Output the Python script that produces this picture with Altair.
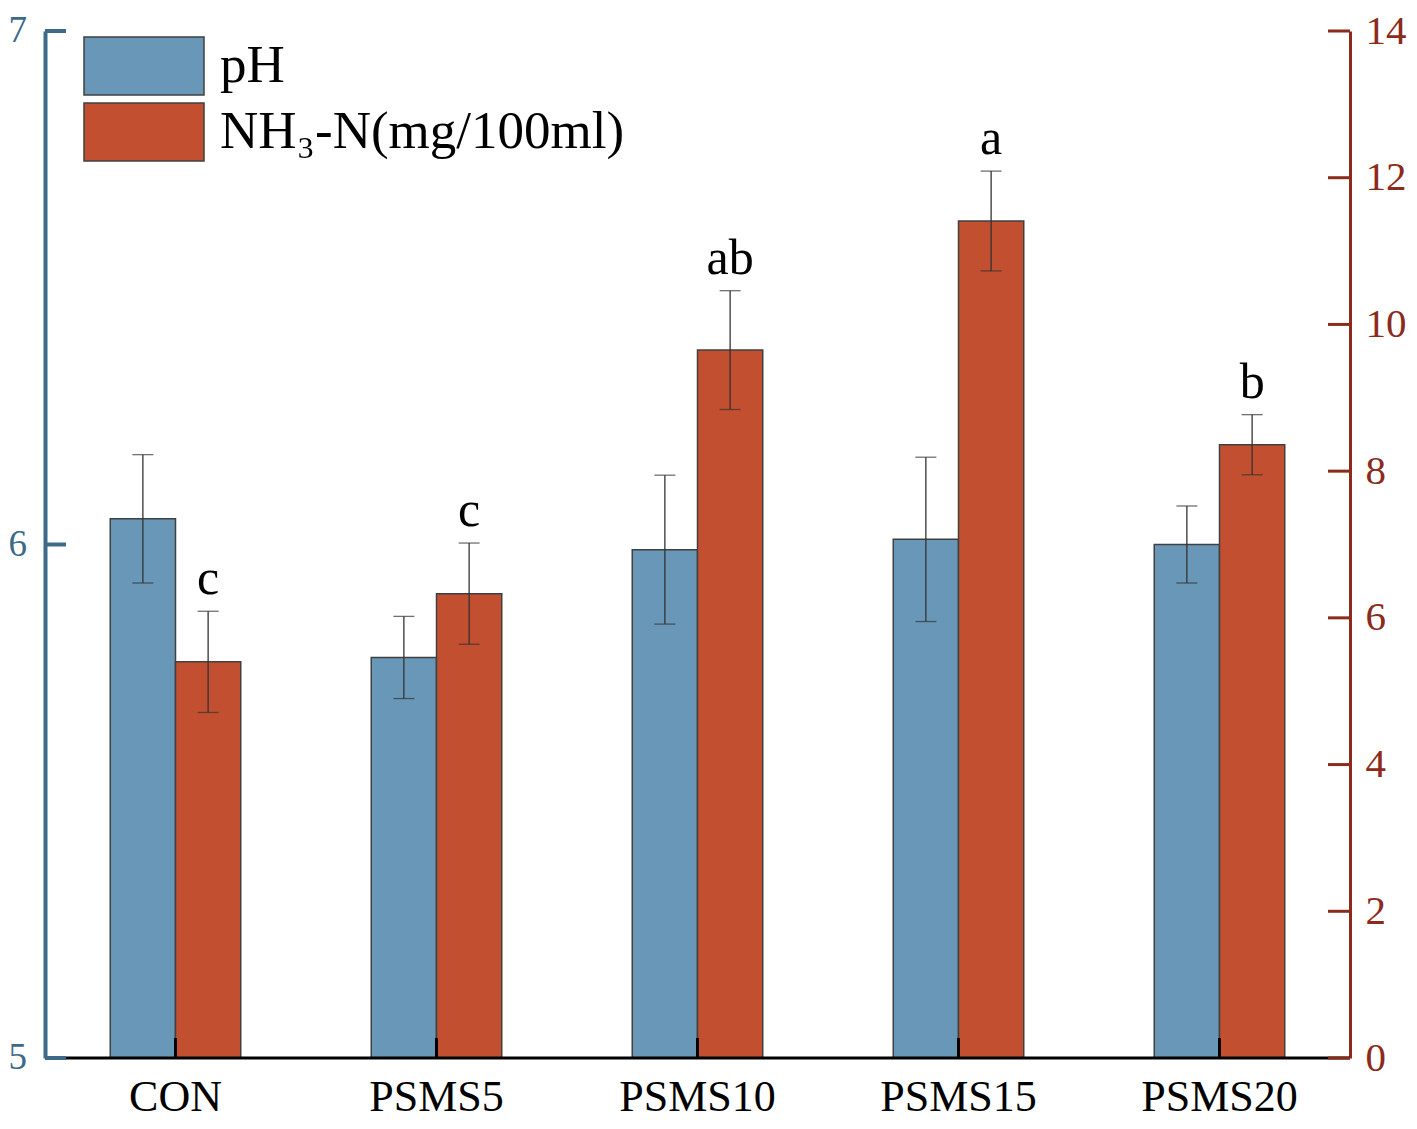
import altair as alt
import pandas as pd

# ---- data ----
categories = ["CON", "PSMS5", "PSMS10", "PSMS15", "PSMS20"]
ph_mean = [6.05, 5.78, 5.99, 6.01, 6.00]
ph_err = [0.125, 0.08, 0.145, 0.16, 0.075]
nh3_mean = [5.40, 6.33, 9.65, 11.41, 8.36]
nh3_err = [0.69, 0.69, 0.81, 0.68, 0.41]
letters = ["c", "c", "ab", "a", "b"]
ph_ticks = [5, 6, 7]
nh3_ticks = [0, 2, 4, 6, 8, 10, 12, 14]
series_names = ["pH", "NH\u2083-N(mg/100ml)"]
series_colors = ["#6897B8", "#C25030"]

FONT = "Liberation Serif"
LEFT_C = "#3E6A8A"
RIGHT_C = "#8B2B1B"
ERR_C = "#333333"
W, H = 1305, 1027

ph_df = pd.DataFrame({
    "category": categories,
    "mean": ph_mean,
    "base": [ph_ticks[0]] * len(categories),
    "lo": [m - e for m, e in zip(ph_mean, ph_err)],
    "hi": [m + e for m, e in zip(ph_mean, ph_err)],
    "series": series_names[0],
})
nh_df = pd.DataFrame({
    "category": categories,
    "mean": nh3_mean,
    "base": [nh3_ticks[0]] * len(categories),
    "lo": [m - e for m, e in zip(nh3_mean, nh3_err)],
    "hi": [m + e for m, e in zip(nh3_mean, nh3_err)],
    "letter": letters,
    "series": series_names[1],
})


def yl():
    return alt.Scale(domain=[5, 7], zero=False, nice=False)


def yr():
    return alt.Scale(domain=[0, 14], zero=False, nice=False)


x_enc = alt.X(
    "category:N",
    scale=alt.Scale(domain=categories, paddingInner=0.5, paddingOuter=0.25),
    axis=alt.Axis(title=None, labelAngle=0, ticks=False, domain=False, grid=False,
                  labelFont=FONT, labelFontSize=44, labelColor="black", labelPadding=17),
)
xo_enc = alt.XOffset("series:N", scale=alt.Scale(domain=series_names, paddingInner=0, paddingOuter=0))
color_enc = alt.Color(
    "series:N",
    scale=alt.Scale(domain=series_names, range=series_colors),
    legend=alt.Legend(
        title=None, orient="none", legendX=68, legendY=4,
        symbolType="M-2,-0.97H2V0.97H-2Z", symbolSize=3600,
        symbolStrokeColor="#404040", symbolStrokeWidth=1.5, symbolOpacity=1,
        labelFont=FONT, labelFontSize=53, labelColor="black", labelOffset=45,
        labelLimit=800, rowPadding=0, padding=0,
    ),
)

# ---- pH ----
ph_bars = alt.Chart(ph_df).mark_bar(stroke="#404040", strokeWidth=1.5, opacity=1).encode(
    x=x_enc, xOffset=xo_enc,
    y=alt.Y("mean:Q", scale=yl(),
            axis=alt.Axis(orient="left", values=ph_ticks, ticks=False, grid=False, title=None,
                          labels=False, domainColor=LEFT_C, domainWidth=4)),
    y2="base:Q",
    color=color_enc,
)
ph_rule = alt.Chart(ph_df).mark_rule(color=ERR_C, strokeWidth=1.3).encode(
    x=x_enc, xOffset=xo_enc, y=alt.Y("lo:Q", scale=yl(), axis=None), y2="hi:Q")
ph_caps = alt.Chart(ph_df).transform_fold(["lo", "hi"], as_=["k", "v"]).mark_tick(
    orient="horizontal", size=21, thickness=1.3, color=ERR_C).encode(
    x=x_enc, xOffset=xo_enc, y=alt.Y("v:Q", scale=yl(), axis=None))

# ---- NH3-N ----
nh_bars = alt.Chart(nh_df).mark_bar(stroke="#404040", strokeWidth=1.5, opacity=1).encode(
    x=x_enc, xOffset=xo_enc,
    y=alt.Y("mean:Q", scale=yr(),
            axis=alt.Axis(orient="right", values=nh3_ticks, ticks=False, grid=False, title=None,
                          format="d", labelOverlap=False,
                          domainColor=RIGHT_C, domainWidth=3, labelColor=RIGHT_C,
                          labelFont=FONT, labelFontSize=41, labelPadding=15)),
    y2="base:Q",
    color=color_enc,
)
nh_rule = alt.Chart(nh_df).mark_rule(color=ERR_C, strokeWidth=1.3).encode(
    x=x_enc, xOffset=xo_enc, y=alt.Y("lo:Q", scale=yr(), axis=None), y2="hi:Q")
nh_caps = alt.Chart(nh_df).transform_fold(["lo", "hi"], as_=["k", "v"]).mark_tick(
    orient="horizontal", size=21, thickness=1.3, color=ERR_C).encode(
    x=x_enc, xOffset=xo_enc, y=alt.Y("v:Q", scale=yr(), axis=None))
nh_text = alt.Chart(nh_df).mark_text(font=FONT, fontSize=50, baseline="bottom", dy=-7,
                                     color="black").encode(
    x=x_enc, xOffset=xo_enc, y=alt.Y("hi:Q", scale=yr(), axis=None), text="letter:N")

# ---- axis lines / inward ticks / left tick labels ----
ph_tick_df = pd.DataFrame({"v": ph_ticks})
x_line = alt.Chart(pd.DataFrame({"v": [ph_ticks[0]]})).mark_rule(color="black", strokeWidth=3).encode(
    y=alt.Y("v:Q", scale=yl(), axis=None), x=alt.value(0), x2=alt.value(W))
x_ticks = alt.Chart(pd.DataFrame({"category": categories})).mark_rule(
    color="black", strokeWidth=3).encode(x=x_enc, y=alt.value(H - 20), y2=alt.value(H))
l_ticks = alt.Chart(ph_tick_df).mark_rule(color=LEFT_C, strokeWidth=4).encode(
    y=alt.Y("v:Q", scale=yl(), axis=None), x=alt.value(0), x2=alt.value(21))
l_labels = alt.Chart(ph_tick_df).mark_text(
    font=FONT, fontSize=37, color=LEFT_C, align="right", baseline="middle").encode(
    y=alt.Y("v:Q", scale=yl(), axis=None), x=alt.value(-18), text=alt.Text("v:Q", format="d"))
r_ticks = alt.Chart(pd.DataFrame({"v": nh3_ticks})).mark_rule(color=RIGHT_C, strokeWidth=3).encode(
    y=alt.Y("v:Q", scale=yr(), axis=None), x=alt.value(W - 22), x2=alt.value(W))

chart = alt.layer(
    ph_bars, nh_bars, ph_rule, ph_caps, nh_rule, nh_caps, nh_text,
    x_line, x_ticks, l_ticks, l_labels, r_ticks,
).resolve_scale(
    y="independent"
).properties(
    width=W, height=H,
    autosize=alt.AutoSizeParams(type="none"),
    padding={"left": 37, "top": 23, "right": 59, "bottom": 63},
    background="white",
).configure_view(stroke=None)

chart.save("out.html", embed_options={"renderer": "svg", "actions": False})
